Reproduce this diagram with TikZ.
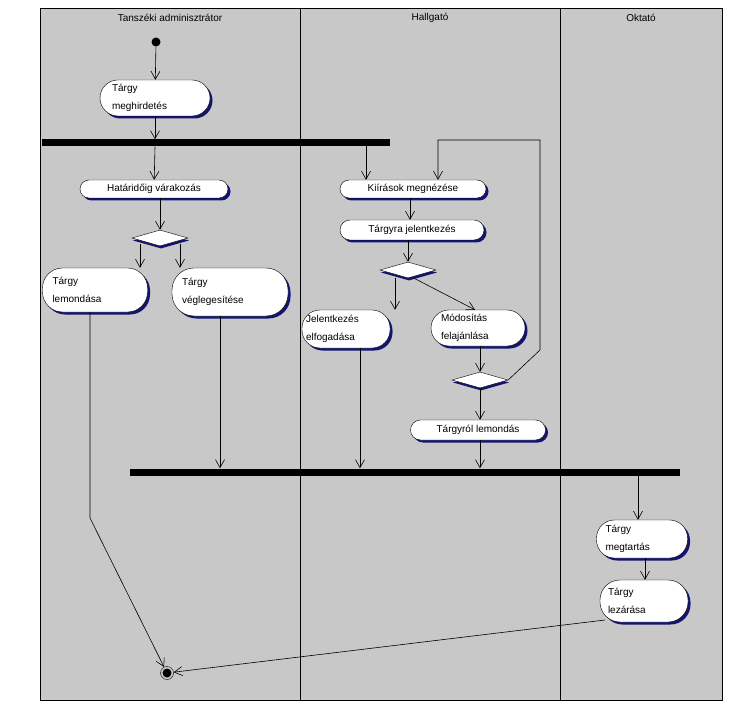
\documentclass[tikz,border=0pt]{standalone}
\usepackage{fontspec}
\setmainfont{Liberation Sans}
\usetikzlibrary{arrows.meta,shapes.geometric,shadows}
\definecolor{lanebg}{RGB}{200,200,200}
\definecolor{shad}{RGB}{20,20,110}
\begin{document}
\begin{tikzpicture}[x=1pt,y=-1pt,font=\fontsize{10}{18}\selectfont,
 arr/.style={-{Straight Barb[length=8pt,width=9pt]},line width=0.6pt},
 act/.style={draw,fill=white,rounded corners=#1,inner sep=0pt,align=left,
   drop shadow={shadow xshift=2.5pt,shadow yshift=-2.5pt,fill=shad,opacity=1}},
 dia/.style={draw,fill=white,diamond,aspect=3.5,minimum width=56pt,minimum height=16pt,inner sep=0pt,
   drop shadow={shadow xshift=1pt,shadow yshift=-2.5pt,fill=shad,opacity=1}},
 bar/.style={fill=black,inner sep=0pt,minimum height=7pt}]
\useasboundingbox (0,0) rectangle (741,711);
\fill[white] (0,0) rectangle (741,711);
\draw[fill=lanebg] (40,8) rectangle (722,700);
\draw (300,8) -- (300,700) (560,8) -- (560,700);
\node (h1) at (170,18) {Tanszéki adminisztrátor};
\node (h2) at (430,18) {Hallgató};
\node (h3) at (641,18) {Oktató};

\node[circle,fill=black,inner sep=0pt,minimum size=9pt] (start) at (156,42) {};
\node[act=18pt,minimum width=110pt,minimum height=36pt,text width=86pt] (meg) at (155,98) {Tárgy\\meghirdetés};
\node[bar,minimum width=348pt] (bar1) at (216,143) {};
\node[act=9pt,minimum width=148pt,minimum height=18pt,align=center] (hat) at (154,189) {Határidőig várakozás};
\node[dia] (d1) at (160,238) {};
\node[act=20pt,minimum width=105pt,minimum height=44pt,text width=85pt] (lem) at (95,290) {Tárgy\\lemondása};
\node[act=22pt,minimum width=116pt,minimum height=48pt,text width=96pt] (veg) at (230,292) {Tárgy\\véglegesítése};

\node[act=9pt,minimum width=146pt,minimum height=18pt,align=center] (kii) at (413,189) {Kiírások megnézése};
\node[act=10pt,minimum width=144pt,minimum height=20pt,align=center] (jel) at (412,230) {Tárgyra jelentkezés};
\node[dia] (d2) at (408,270) {};
\node[act=18pt,minimum width=88pt,minimum height=38pt,text width=80pt] (elf) at (346,329) {Jelentkezés\\elfogadása};
\node[act=18pt,minimum width=94pt,minimum height=36pt,text width=74pt] (mod) at (478,328) {Módosítás\\felajánlása};
\node[dia] (d3) at (480,380) {};
\node[act=10pt,minimum width=135pt,minimum height=20pt,align=center] (tle) at (478,430) {Tárgyról lemondás};
\node[bar,minimum width=550pt] (bar2) at (405,472) {};

\node[act=18pt,minimum width=91pt,minimum height=38pt,text width=73pt] (mt) at (642,539) {Tárgy\\megtartás};
\node[act=20pt,minimum width=88pt,minimum height=42pt,text width=72pt] (lz) at (644,601) {Tárgy\\lezárása};

\node[circle,draw,fill=lanebg,minimum size=13pt,inner sep=0pt] (end) at (167,673) {};
\fill (end) circle (4.5pt);

\draw[arr] (start) -- (meg);
\draw[arr] (meg) -- (meg |- bar1.north);
\draw[arr] (meg |- bar1.south) -- (hat);
\coordinate (b1k) at (366,146);
\draw[arr] (b1k) -- (b1k |- kii.north);
\coordinate (lp) at (438,140);
\draw[arr] (d3.east) -- (540,350) -- (540,140) -- (lp) -- (lp |- kii.north);
\coordinate (kj) at (410,198);
\draw[arr] (kj) -- (kj |- jel.north);
\draw[arr] (jel.south -| d2.north) -- (d2.north);
\coordinate (d2a) at (395,278);
\draw[arr] (d2a) -- (d2a |- elf.north);
\draw[arr] ([xshift=6pt]d2.south) -- ([xshift=-3pt]mod.north);
\draw[arr] (mod.south -| d3.north) -- (d3.north);
\draw[arr] (d3.south) -- (d3.south |- tle.north);
\draw[arr] (hat.south -| d1.north) -- (d1.north);
\coordinate (d1a) at (140,244);
\draw[arr] (d1a) -- (d1a |- lem.north);
\coordinate (d1b) at (180,244);
\draw[arr] (d1b) -- (d1b |- veg.north);
\coordinate (v1) at (220,316);
\draw[arr] (v1) -- (v1 |- bar2.north);
\coordinate (e1) at (360,348);
\draw[arr] (e1) -- (e1 |- bar2.north);
\draw[arr] (tle.south -| d3.south) -- (d3.south |- bar2.north);
\coordinate (b2m) at (638,476);
\draw[arr] (b2m) -- (b2m |- mt.north);
\coordinate (ml) at (645,558);
\draw[arr] (ml) -- (ml |- lz.north);
\draw[arr] (90,312) -- (90,518) -- (end);
\draw[arr] (605,620) -- (end);
\end{tikzpicture}
\end{document}
